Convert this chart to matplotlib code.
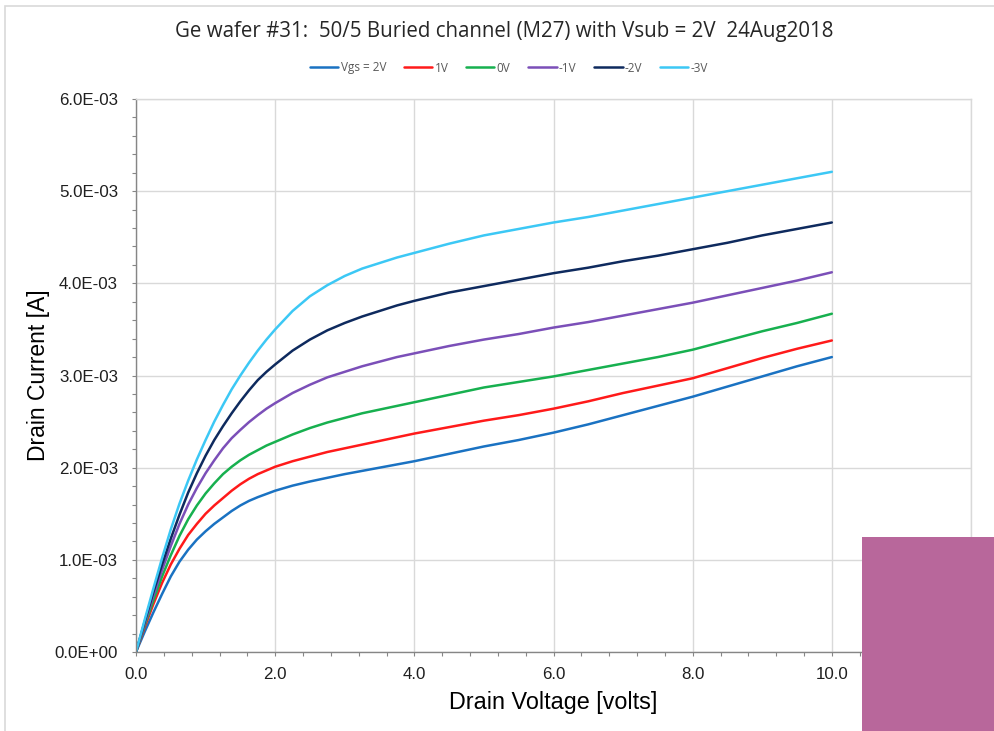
import matplotlib
matplotlib.use("Agg")
import matplotlib.pyplot as plt
from matplotlib.patches import Rectangle
from matplotlib.ticker import MultipleLocator, FormatStrFormatter, FuncFormatter

# Drain voltage sweep [V]
vd = [0.0, 0.125, 0.25, 0.375, 0.5, 0.625, 0.75, 0.875, 1.0, 1.125, 1.25,
      1.375, 1.5, 1.625, 1.75, 1.875, 2.0, 2.25, 2.5, 2.75, 3.0, 3.25, 3.5,
      3.75, 4.0, 4.5, 5.0, 5.5, 6.0, 6.5, 7.0, 7.5, 8.0, 8.5, 9.0, 9.5, 10.0]

# Drain current [mA] for each gate bias
id_vgs_p2 = [0.0, 0.22, 0.43, 0.63, 0.82, 0.98, 1.11, 1.22, 1.31, 1.39, 1.46,
             1.53, 1.59, 1.64, 1.68, 1.715, 1.75, 1.805, 1.85, 1.89, 1.93, 1.965,
             2.00, 2.035, 2.07, 2.15, 2.23, 2.30, 2.38, 2.47, 2.57, 2.67, 2.77,
             2.88, 2.99, 3.10, 3.20]
id_vgs_p1 = [0.0, 0.27, 0.52, 0.75, 0.95, 1.12, 1.27, 1.39, 1.50, 1.59, 1.67,
             1.75, 1.82, 1.88, 1.93, 1.97, 2.01, 2.07, 2.12, 2.17, 2.21, 2.25,
             2.29, 2.33, 2.37, 2.44, 2.51, 2.57, 2.64, 2.72, 2.81, 2.89, 2.97,
             3.08, 3.19, 3.29, 3.38]
id_vgs_0 = [0.0, 0.29, 0.56, 0.82, 1.05, 1.26, 1.44, 1.59, 1.72, 1.83, 1.93,
            2.01, 2.08, 2.14, 2.19, 2.24, 2.28, 2.36, 2.43, 2.49, 2.54, 2.59,
            2.63, 2.67, 2.71, 2.79, 2.87, 2.93, 2.99, 3.06, 3.13, 3.20, 3.28,
            3.38, 3.48, 3.57, 3.67]
id_vgs_m1 = [0.0, 0.31, 0.61, 0.89, 1.15, 1.39, 1.60, 1.78, 1.94, 2.08, 2.21,
             2.32, 2.41, 2.495, 2.57, 2.64, 2.70, 2.81, 2.90, 2.98, 3.04, 3.10,
             3.15, 3.20, 3.24, 3.32, 3.39, 3.45, 3.52, 3.58, 3.65, 3.72, 3.79,
             3.87, 3.95, 4.03, 4.12]
id_vgs_m2 = [0.0, 0.33, 0.65, 0.95, 1.23, 1.49, 1.73, 1.94, 2.13, 2.30, 2.45,
             2.59, 2.72, 2.84, 2.95, 3.04, 3.12, 3.27, 3.39, 3.49, 3.57, 3.64,
             3.70, 3.76, 3.81, 3.90, 3.97, 4.04, 4.11, 4.17, 4.24, 4.30, 4.37,
             4.44, 4.52, 4.59, 4.66]
id_vgs_m3 = [0.0, 0.35, 0.69, 1.02, 1.33, 1.61, 1.86, 2.09, 2.30, 2.50, 2.68,
             2.85, 3.00, 3.14, 3.27, 3.39, 3.50, 3.70, 3.86, 3.98, 4.08, 4.16,
             4.22, 4.28, 4.33, 4.43, 4.52, 4.59, 4.66, 4.72, 4.79, 4.86, 4.93,
             5.00, 5.07, 5.14, 5.21]

series_labels = ["Vgs = 2V", "1V", "0V", "-1V", "-2V", "-3V"]
series_values = [id_vgs_p2, id_vgs_p1, id_vgs_0, id_vgs_m1, id_vgs_m2, id_vgs_m3]
series_colors = ["#1a72c2", "#ff1a1a", "#17b04f", "#7b4fb8", "#0e2a5e", "#3cc8f5"]

x_ticks = [0, 2, 4, 6, 8, 10, 12]
y_ticks = [0, 1e-3, 2e-3, 3e-3, 4e-3, 5e-3, 6e-3]

fig = plt.figure(figsize=(9.94, 7.31), dpi=100)
ax = fig.add_axes([136 / 994, 1 - 652 / 731, (971 - 136) / 994, (652 - 99) / 731])

for vals, lab, col in zip(series_values, series_labels, series_colors):
    ax.plot(vd, [v * 1e-3 for v in vals], color=col, lw=1.8, label=lab,
            solid_capstyle="round", solid_joinstyle="round")

ax.set_xlim(0, 12)
ax.set_ylim(0, 6e-3)
ax.set_xticks(x_ticks)
ax.set_yticks(y_ticks)
ax.xaxis.set_minor_locator(MultipleLocator(0.4))
ax.yaxis.set_minor_locator(MultipleLocator(0.2e-3))
ax.xaxis.set_major_formatter(FormatStrFormatter("%.1f"))


def sci_fmt(v, pos):
    s = f"{v:.1E}"
    mant, exp = s.split("E")
    sign = "-" if int(exp) < 0 else "+"
    return f"{mant}E{sign}{abs(int(exp)):02d}"


ax.yaxis.set_major_formatter(FuncFormatter(sci_fmt))

grid_col = "#d9d9d9"
axis_col = "#868686"
ax.grid(True, which="major", color=grid_col, lw=1.0)
ax.set_axisbelow(True)
for side in ("top", "right"):
    ax.spines[side].set_color(grid_col)
    ax.spines[side].set_linewidth(1.0)
for side in ("left", "bottom"):
    ax.spines[side].set_color(axis_col)
    ax.spines[side].set_linewidth(1.0)

ax.tick_params(which="both", colors=axis_col, direction="out", width=0.8)
ax.tick_params(which="major", length=3, labelsize=12.2, labelcolor="#1f1f1f")
ax.tick_params(axis="y", which="major", pad=10)
ax.tick_params(axis="x", which="major", pad=8)
ax.tick_params(which="minor", length=3)
for t in ax.get_xticklabels() + ax.get_yticklabels():
    t.set_family("Liberation Sans")

ax.set_xlabel("Drain Voltage [volts]", fontsize=16.8, family="Liberation Sans",
              labelpad=6)
ax.set_ylabel("Drain Current [A]", fontsize=16.5, family="Liberation Sans")
ax.yaxis.set_label_coords((50 - 136) / 835, 0.5)

fig.text(0.5 * (173 + 836) / 994, 1 - 32 / 731,
         "Ge wafer #31:  50/5 Buried channel (M27) with Vsub = 2V  24Aug2018",
         ha="center", va="center", fontsize=14.8, family="Open Sans",
         color="#262626")

leg = fig.legend(loc="center", bbox_to_anchor=(509 / 994, 1 - 68 / 731), ncol=6,
                 frameon=False, prop={"family": "Open Sans", "size": 8.5},
                 handlelength=2.4, handletextpad=0.2, columnspacing=1.5)
for t in leg.get_texts():
    t.set_color("#595959")

# chart border
fig.patches.append(Rectangle((5 / 994, -0.05), 1.05, 1 - 6 / 731 + 0.05,
                             transform=fig.transFigure, fill=False,
                             edgecolor=grid_col, lw=1.2, zorder=0))
# corner block
fig.patches.append(Rectangle((862 / 994, 0), (994 - 862) / 994, (731 - 537) / 731,
                             transform=fig.transFigure, facecolor="#b8679b",
                             edgecolor="none", zorder=10))

fig.savefig("out.png", dpi=100)
